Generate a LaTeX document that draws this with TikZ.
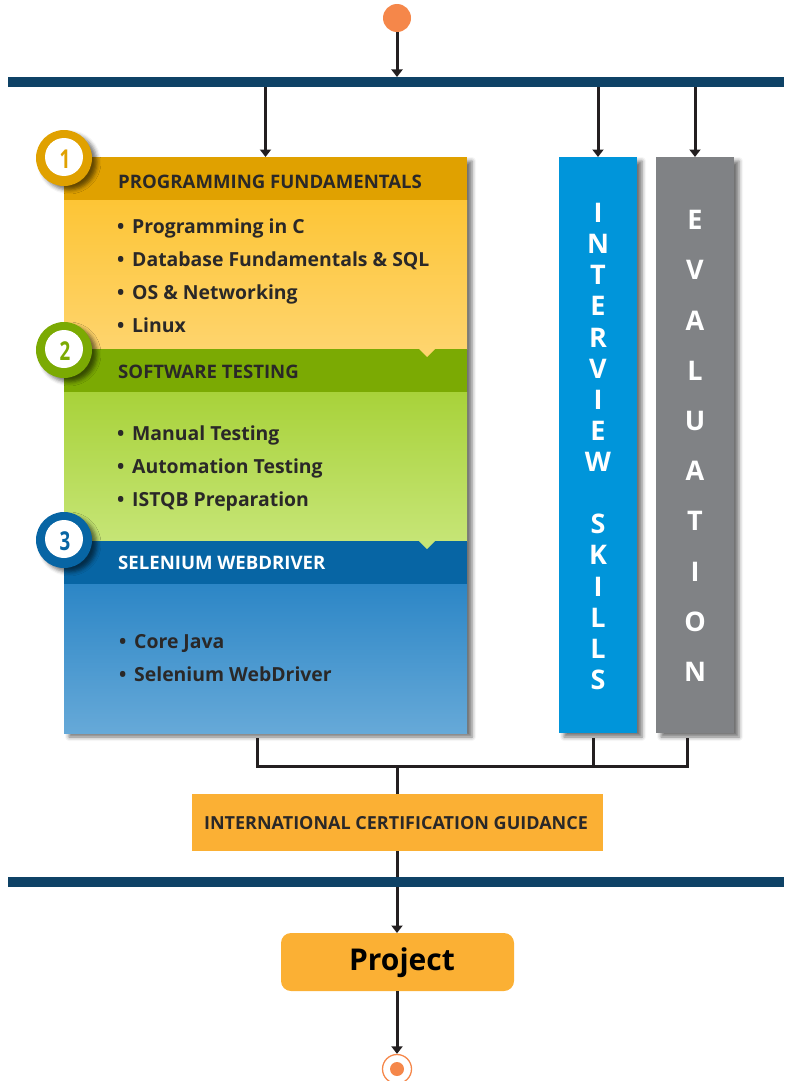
\documentclass[tikz,border=0pt]{standalone}
\usepackage{fontspec}
\setmainfont{Open Sans}
\newfontfamily\numfont[FakeStretch=0.72]{Open Sans}
\usetikzlibrary{arrows.meta,shadows.blur}
\definecolor{bardark}{RGB}{14,66,102}
\definecolor{startor}{RGB}{245,135,74}
\definecolor{linec}{RGB}{35,31,32}
\definecolor{txt}{RGB}{42,40,40}
\definecolor{gold}{RGB}{224,161,0}
\definecolor{yTop}{RGB}{253,197,54}
\definecolor{yBot}{RGB}{254,212,109}
\definecolor{grn}{RGB}{123,170,3}
\definecolor{gTop}{RGB}{168,210,58}
\definecolor{gBot}{RGB}{198,229,118}
\definecolor{blu}{RGB}{7,101,164}
\definecolor{bTop}{RGB}{44,134,198}
\definecolor{bBot}{RGB}{102,169,216}
\definecolor{intc}{RGB}{0,149,218}
\definecolor{evac}{RGB}{128,130,133}
\definecolor{certc}{RGB}{251,176,52}
\newcommand{\bul}{\makebox[15pt][l]{\textbullet}}
\tikzset{
  box/.style={inner sep=0pt, outer sep=0pt, anchor=north west},
  shad/.style={blur shadow={shadow xshift=5pt, shadow yshift=-4pt, shadow blur radius=4pt, shadow opacity=55}},
  hdr/.style={anchor=base west, inner sep=0pt, font=\bfseries\fontsize{18.6}{20}\selectfont, text=txt},
  item/.style={anchor=base west, inner sep=0pt, font=\bfseries\fontsize{19.4}{22}\selectfont, text=txt},
  conn/.style={draw=linec, line width=3pt},
  arr/.style={conn, -{Triangle[width=11pt,length=7.5pt]}},
  bar/.style={box, fill=bardark, minimum width=776pt, minimum height=10pt},
  vtext/.style={align=center, text=white, font=\bfseries\fontsize{27}{31.13}\selectfont, inner sep=0pt},
  ring/.style={circle, minimum size=56pt, inner sep=0pt, fill=#1, shad},
  inner/.style={circle, minimum size=38pt, inner sep=0pt, fill=white},
  digit/.style={text=#1, font=\numfont\bfseries\fontsize{26}{28}\selectfont, inner sep=0pt}
}
\begin{document}
\begin{tikzpicture}[x=1pt,y=-1pt]
\useasboundingbox (0,0) rectangle (784,1081);
% start
\node[circle, fill=startor, minimum size=28pt, inner sep=0pt] (start) at (397,18) {};
\node[bar] (topbar) at (8,77) {};
% main box
\node[box, minimum width=403pt, minimum height=576pt, fill=white, shad] (mainbox) at (64,157) {};
\node[box, minimum width=403pt, minimum height=43pt, fill=gold] (h1) at (64,157) {};
\node[box, minimum width=403pt, minimum height=149pt, top color=yTop, bottom color=yBot] (b1) at (64,200) {};
\node[box, minimum width=403pt, minimum height=43pt, fill=grn] (h2) at (64,349) {};
\node[box, minimum width=403pt, minimum height=149pt, top color=gTop, bottom color=gBot] (b2) at (64,392) {};
\node[box, minimum width=403pt, minimum height=43pt, fill=blu] (h3) at (64,541) {};
\node[box, minimum width=403pt, minimum height=149pt, top color=bTop, bottom color=bBot] (b3) at (64,584) {};
\fill[yBot] (419,349) -- (435,349) -- (427,357) -- cycle;
\fill[gBot] (419,541) -- (435,541) -- (427,549) -- cycle;
% headers
\node[hdr] (t1) at (118,188) {PROGRAMMING FUNDAMENTALS};
\node[hdr] (t2) at (118,378) {SOFTWARE TESTING};
\node[hdr, text=white] (t3) at (118,569) {SELENIUM WEBDRIVER};
% items
\node[item] (i11) at (117,233) {\bul Programming in C};
\node[item] (i12) at (117,266) {\bul Database Fundamentals \& SQL};
\node[item] (i13) at (117,299) {\bul OS \& Networking};
\node[item] (i14) at (117,332) {\bul Linux};
\node[item] (i21) at (117,440) {\bul Manual Testing};
\node[item] (i22) at (117,473) {\bul Automation Testing};
\node[item] (i23) at (117,506) {\bul ISTQB Preparation};
\node[item] (i31) at (119,648) {\bul Core Java};
\node[item] (i32) at (119,681) {\bul Selenium WebDriver};
% number circles
\node[ring=gold] (c1) at (64,158) {};
\node[inner] (w1) at (64,157) {};
\node[digit=gold] (n1) at (65,159) {1};
\node[ring=grn] (c2) at (64,350) {};
\node[inner] (w2) at (64,349) {};
\node[digit=grn] (n2) at (65,351) {2};
\node[ring=blu] (c3) at (64,540) {};
\node[inner] (w3) at (64,539) {};
\node[digit=blu] (n3) at (65,541) {3};
% side boxes
\node[box, minimum width=78pt, minimum height=576pt, fill=intc, shad] (intv) at (559,157) {};
\node[box, minimum width=78pt, minimum height=576pt, fill=evac, shad] (eval) at (656,157) {};
\node[vtext] (intvt) at (598,446.5) {I\\N\\T\\E\\R\\V\\I\\E\\W\\[31.13pt]S\\K\\I\\L\\L\\S};
\node[vtext, font=\bfseries\fontsize{27}{50.2}\selectfont] (evalt) at (695,446) {E\\V\\A\\L\\U\\A\\T\\I\\O\\N};
% certification and project
\node[box, minimum width=411pt, minimum height=57pt, fill=certc] (cert) at (192,794) {};
\node[anchor=base, inner sep=0pt, font=\bfseries\fontsize{18}{20}\selectfont, text=txt] (certt) at (396,829) {INTERNATIONAL CERTIFICATION GUIDANCE};
\node[box, minimum width=233pt, minimum height=58pt, fill=certc, rounded corners=10pt] (proj) at (281,933) {};
\node[anchor=base, inner sep=0pt, font=\bfseries\fontsize{30}{32}\selectfont, text=black] (projt) at (402,970) {Project};
% end
\node[circle, draw=startor, line width=1.3pt, minimum size=29pt, inner sep=0pt] (endc) at (397,1069) {};
\fill[startor] (endc.center) circle (7pt);
% connectors
\draw[arr] (start.south) -- (start.south |- topbar.north);
\draw[arr] (topbar.south -| h1.north) -- (h1.north);
\draw[arr] (topbar.south -| intv.north) -- (intv.north);
\draw[arr] (topbar.south -| eval.north) -- (eval.north);
\coordinate (j) at (397,766);
\draw[conn] ([xshift=-8.5pt,yshift=-5pt]b3.south) |- (j);
\draw[conn] ([xshift=-5pt,yshift=-5pt]intv.south) |- (j);
\draw[conn] ([xshift=-8pt,yshift=-5pt]eval.south) |- (j);
\draw[conn] (j) -- (cert.north -| j);
\draw[arr] (cert.south -| j) -- (proj.north -| j);
\node[bar] (botbar) at (8,877) {};
\draw[arr] (proj.south -| j) -- (endc.north);
\end{tikzpicture}
\end{document}
